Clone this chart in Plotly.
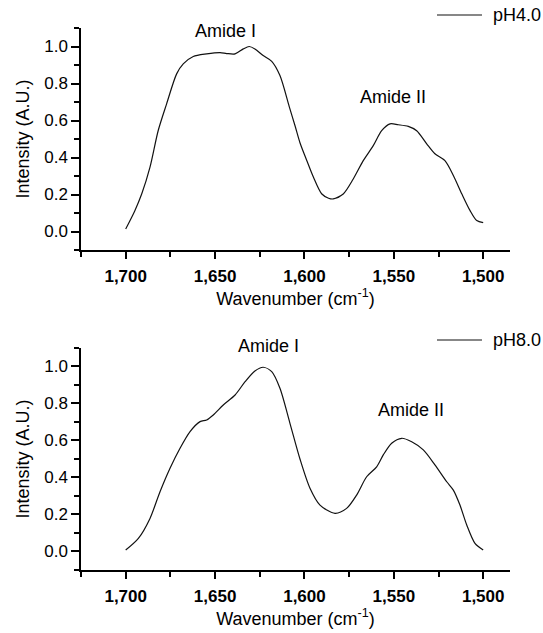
import plotly.graph_objects as go

# ---- data ----
wn_ph4 = [1700, 1695, 1691, 1686.4, 1681.8, 1677.1, 1671.5, 1667.8, 1662.2, 1654.7, 1647.2,
          1643.5, 1638.8, 1634.2, 1630.9, 1627.7, 1623.1, 1618.3, 1613.7, 1608.5, 1605.3,
          1602.5, 1598.7, 1595, 1590.4, 1586.5, 1583.9, 1578.3, 1572.7, 1567.1, 1561.5,
          1556.8, 1552.1, 1547.5, 1541.9, 1537.2, 1531.6, 1527, 1521.4, 1516.7, 1512,
          1507.4, 1503.6, 1500]
int_ph4 = [0.014, 0.11, 0.204, 0.348, 0.546, 0.690, 0.852, 0.906, 0.946, 0.960, 0.967,
           0.962, 0.960, 0.987, 1.0, 0.987, 0.951, 0.920, 0.843, 0.675, 0.573,
           0.480, 0.384, 0.294, 0.204, 0.18, 0.176, 0.203, 0.284, 0.383, 0.464,
           0.545, 0.582, 0.577, 0.568, 0.545, 0.474, 0.420, 0.383, 0.303, 0.204,
           0.114, 0.059, 0.048]

wn_ph8 = [1700, 1692.9, 1686.4, 1680.8, 1675.2, 1669.6, 1664, 1658.4, 1654.7, 1651,
          1645.4, 1638.8, 1633.2, 1627.7, 1623.1, 1618.3, 1613.7, 1608.1, 1602.5, 1596.9,
          1591.3, 1582.9, 1576.4, 1570.8, 1565.2, 1559.6, 1555.9, 1551.2, 1545.6, 1540,
          1533.5, 1527, 1520.4, 1516.7, 1513, 1509.2, 1504.6, 1500]
int_ph8 = [0.008, 0.071, 0.179, 0.323, 0.450, 0.558, 0.648, 0.702, 0.711, 0.738,
           0.792, 0.846, 0.918, 0.976, 0.996, 0.972, 0.882, 0.693, 0.500, 0.342,
           0.251, 0.206, 0.233, 0.305, 0.404, 0.458, 0.522, 0.585, 0.612, 0.593,
           0.549, 0.468, 0.377, 0.332, 0.251, 0.143, 0.044, 0.008]

series_names = ["pH4.0", "pH8.0"]

x_tickvals = [1700, 1650, 1600, 1550, 1500]
x_ticktext = ["1,700", "1,650", "1,600", "1,550", "1,500"]
x_minorvals = [1725, 1675, 1625, 1575, 1525]
y_tickvals = [0.0, 0.2, 0.4, 0.6, 0.8, 1.0]
y_ticktext = ["0.0", "0.2", "0.4", "0.6", "0.8", "1.0"]
y_minorvals = [-0.1, 0.1, 0.3, 0.5, 0.7, 0.9, 1.1]

FONT = "Liberation Sans, Arial, sans-serif"
LINE_COLOR = "#111111"

fig = go.Figure()
fig.add_trace(go.Scatter(x=wn_ph4, y=int_ph4, mode="lines", name=series_names[0],
                         line=dict(color=LINE_COLOR, width=1.2, shape="spline", smoothing=0.8),
                         xaxis="x", yaxis="y"))
fig.add_trace(go.Scatter(x=wn_ph8, y=int_ph8, mode="lines", name=series_names[1],
                         line=dict(color=LINE_COLOR, width=1.2, shape="spline", smoothing=0.8),
                         xaxis="x2", yaxis="y2"))


def xaxis_cfg(anchor):
    return dict(anchor=anchor, domain=[0, 1], range=[1725, 1485], automargin=False,
                tickmode="array", tickvals=x_tickvals, ticktext=x_ticktext,
                ticks="outside", ticklen=7, tickwidth=1.5, tickcolor="black",
                ticklabelstandoff=3,
                tickfont=dict(family=FONT, size=17, color="black", weight="bold"),
                minor=dict(tickmode="array", tickvals=x_minorvals, ticks="outside",
                           ticklen=5, tickwidth=1.5, tickcolor="black"),
                showline=True, linecolor="black", linewidth=1.5, mirror=False,
                showgrid=False, zeroline=False,
                title=dict(text="Wavenumber (cm<sup>-1</sup>)",
                           font=dict(family=FONT, size=18, color="black"), standoff=0))


def yaxis_cfg(anchor, domain):
    return dict(anchor=anchor, domain=domain, range=[-0.1, 1.1], automargin=False,
                tickmode="array", tickvals=y_tickvals, ticktext=y_ticktext,
                ticks="outside", ticklen=8, tickwidth=1.5, tickcolor="black",
                tickfont=dict(family=FONT, size=17, color="black"),
                minor=dict(tickmode="array", tickvals=y_minorvals, ticks="outside",
                           ticklen=5, tickwidth=1.5, tickcolor="black"),
                showline=True, linecolor="black", linewidth=1.5, mirror=False,
                showgrid=False, zeroline=False,
                title=dict(text="Intensity (A.U.)",
                           font=dict(family=FONT, size=18, color="black"), standoff=10))


fig.update_layout(
    width=543, height=633,
    margin=dict(l=81, r=33, t=28, b=63, autoexpand=False),
    paper_bgcolor="white", plot_bgcolor="white",
    font=dict(family=FONT, color="black"),
    xaxis=xaxis_cfg("y"),
    yaxis=yaxis_cfg("x", [0.5904, 1.0]),
    xaxis2=xaxis_cfg("y2"),
    yaxis2=yaxis_cfg("x2", [0.0, 0.4096]),
    showlegend=False,
)

# legend keys drawn in paper coordinates (line sample + label)
ann_font = dict(family=FONT, size=18, color="black")
for name, ly in zip(series_names, [1.024, 0.4244]):
    fig.add_shape(type="line", xref="paper", yref="paper", x0=0.8298, x1=0.9347, y0=ly, y1=ly,
                  line=dict(color=LINE_COLOR, width=1.2))
    fig.add_annotation(x=0.956, y=ly, xref="paper", yref="paper", text=name,
                       xanchor="left", yanchor="middle", showarrow=False, font=ann_font)

fig.add_annotation(x=1644.4, y=(1.083 + 0.1) / 1.2, xref="x", yref="y domain", text="Amide I",
                   xanchor="center", yanchor="middle", showarrow=False, font=ann_font)
fig.add_annotation(x=1550.5, y=0.726, xref="x", yref="y", text="Amide II",
                   xanchor="center", yanchor="middle", showarrow=False, font=ann_font)
fig.add_annotation(x=1620, y=(1.112 + 0.1) / 1.2, xref="x2", yref="y2 domain", text="Amide I",
                   xanchor="center", yanchor="middle", showarrow=False, font=ann_font)
fig.add_annotation(x=1540.4, y=0.765, xref="x2", yref="y2", text="Amide II",
                   xanchor="center", yanchor="middle", showarrow=False, font=ann_font)

fig.write_html("out.html", config={"displayModeBar": False},
               post_script="document.body.style.margin='0px';document.body.style.padding='0px';")
